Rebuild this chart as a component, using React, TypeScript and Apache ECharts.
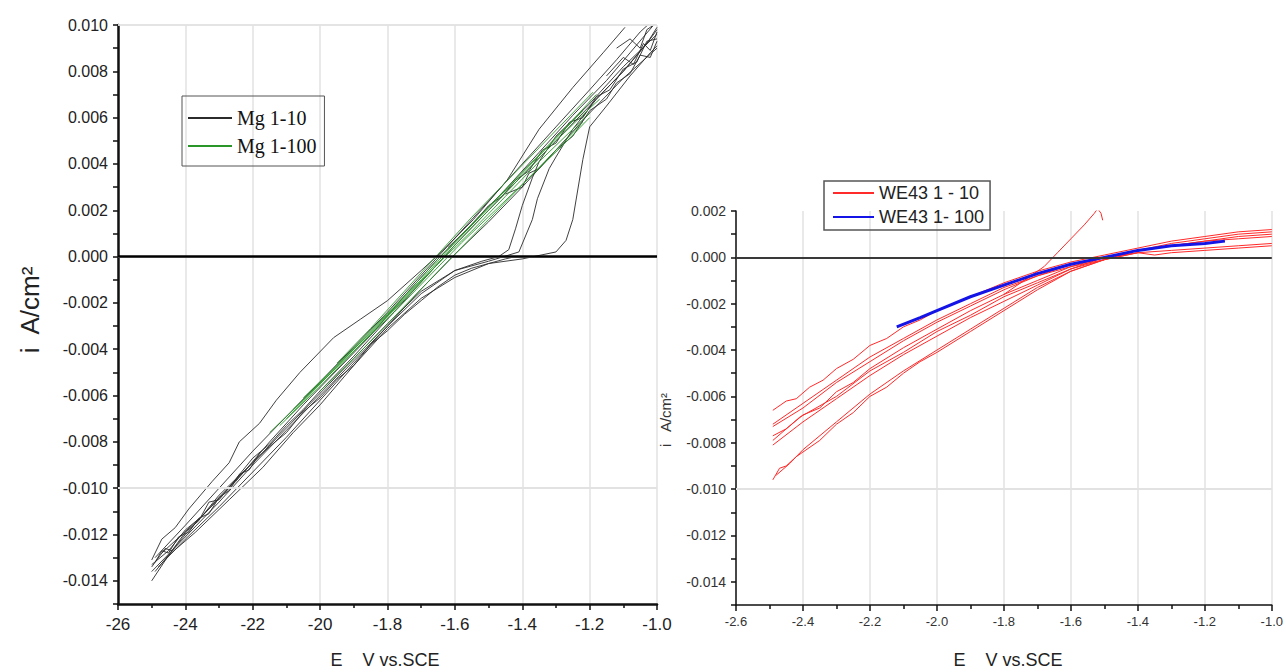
import React, { useEffect, useRef } from 'react';
import * as echarts from 'echarts';

// ---------- data ----------
const leftXTickLabels = ['-26', '-24', '-22', '-20', '-1.8', '-1.6', '-1.4', '-1.2', '-1.0'];
const rightXTickLabels = ['-2.6', '-2.4', '-2.2', '-2.0', '-1.8', '-1.6', '-1.4', '-1.2', '-1.0'];
const leftGridY = [-0.014, -0.012, -0.01, -0.008, -0.006, -0.004, -0.002, 0.002, 0.004, 0.006, 0.008];
const rightGridY = [-0.014, -0.012, -0.01, -0.008, -0.006, -0.004, -0.002];

// Mg 1-10 scans (E, i)
const mg10: number[][][] = [
  [[-2.5, -0.0131], [-2.47, -0.0122], [-2.43, -0.0117], [-2.39, -0.0109], [-2.32, -0.0097], [-2.27, -0.0089], [-2.24, -0.008], [-2.18, -0.0072], [-2.13, -0.0062], [-2.06, -0.005], [-1.96, -0.0035], [-1.88, -0.0027], [-1.8, -0.0019], [-1.7, -0.0006], [-1.64, 0.0002], [-1.545, 0.0016], [-1.445, 0.0033], [-1.35, 0.0055], [-1.25, 0.0073], [-1.16, 0.0088], [-1.095, 0.0099]],
  [[-2.5, -0.014], [-2.45, -0.0129], [-2.37, -0.0119], [-2.27, -0.0105], [-2.17, -0.0091], [-2.08, -0.0076], [-2.0, -0.0064], [-1.9, -0.0047], [-1.8, -0.0031], [-1.7, -0.0018], [-1.6, -0.0009], [-1.5, -0.0003], [-1.4, -0.0001], [-1.3, 0.0002], [-1.27, 0.0007], [-1.25, 0.0016], [-1.22, 0.0042], [-1.2, 0.0056], [-1.15, 0.0065], [-1.08, 0.0078], [-1.02, 0.0088], [-1.0, 0.0091]],
  [[-2.48, -0.0134], [-2.4, -0.0122], [-2.3, -0.0108], [-2.2, -0.0093], [-2.1, -0.0078], [-2.0, -0.0062], [-1.9, -0.0046], [-1.8, -0.003], [-1.7, -0.0016], [-1.6, -0.0006], [-1.52, -0.0002], [-1.47, 0.0], [-1.44, 0.0003], [-1.42, 0.0012], [-1.4, 0.0022], [-1.37, 0.0034], [-1.35, 0.0041], [-1.3, 0.0052], [-1.2, 0.0066], [-1.1, 0.0082], [-1.0, 0.0096]],
  [[-2.49, -0.0136], [-2.4, -0.012], [-2.3, -0.0104], [-2.2, -0.0089], [-2.1, -0.0074], [-2.0, -0.0059], [-1.9, -0.0044], [-1.8, -0.0029], [-1.7, -0.0015], [-1.6, -0.0006], [-1.5, -0.0002], [-1.41, 0.0002], [-1.37, 0.0016], [-1.355, 0.0025], [-1.32, 0.0038], [-1.3, 0.0043], [-1.25, 0.0055], [-1.18, 0.0068], [-1.1, 0.008], [-1.02, 0.0094], [-1.0, 0.0098]],
  [[-2.5, -0.0133], [-2.45, -0.0127], [-2.4, -0.0118], [-2.35, -0.0112], [-2.3, -0.0103], [-2.25, -0.0096], [-2.2, -0.0087], [-2.15, -0.0081], [-2.1, -0.0073], [-2.05, -0.0066], [-2.0, -0.0058], [-1.9, -0.0043], [-1.8, -0.0027], [-1.7, -0.0011], [-1.6, 0.0005], [-1.5, 0.002], [-1.4, 0.0035], [-1.3, 0.005], [-1.2, 0.0065], [-1.1, 0.008], [-1.03, 0.0092], [-1.0, 0.0099]],
  [[-2.49, -0.013], [-2.4, -0.0116], [-2.3, -0.01], [-2.2, -0.0084], [-2.1, -0.0069], [-2.0, -0.0054], [-1.9, -0.0039], [-1.8, -0.0024], [-1.7, -0.0008], [-1.6, 0.0008], [-1.5, 0.0024], [-1.4, 0.004], [-1.3, 0.0056], [-1.2, 0.0072], [-1.12, 0.0085], [-1.05, 0.0097], [-1.02, 0.0101]],
  [[-2.5, -0.0136], [-2.42, -0.0124], [-2.3, -0.0106], [-2.2, -0.009], [-2.1, -0.0075], [-2.0, -0.006], [-1.9, -0.0045], [-1.8, -0.003], [-1.7, -0.0014], [-1.6, 0.0001], [-1.5, 0.0015], [-1.4, 0.003], [-1.3, 0.0046], [-1.2, 0.0062], [-1.1, 0.0077], [-1.0, 0.009]],
  [[-2.47, -0.0128], [-2.35, -0.0112], [-2.25, -0.0097], [-2.15, -0.008], [-2.05, -0.0064], [-1.95, -0.0049], [-1.85, -0.0034], [-1.75, -0.0017], [-1.65, -0.0001], [-1.55, 0.0014], [-1.45, 0.0029], [-1.35, 0.0045], [-1.25, 0.0061], [-1.15, 0.0076], [-1.08, 0.0088], [-1.01, 0.01]],
  [[-1.15, 0.0078], [-1.1, 0.0086], [-1.07, 0.0083], [-1.04, 0.0092], [-1.02, 0.0089], [-1.0, 0.0097]],
  [[-1.12, 0.009], [-1.08, 0.0094], [-1.05, 0.009], [-1.03, 0.0098], [-1.0, 0.0101]],
  [[-2.5, -0.0134], [-2.46, -0.0126], [-2.44, -0.0127], [-2.4, -0.0119], [-2.36, -0.0114], [-2.33, -0.0106], [-2.3, -0.0105], [-2.25, -0.0096], [-2.2, -0.0089], [-2.15, -0.0082], [-2.1, -0.0076], [-2.05, -0.0067], [-2.0, -0.0061], [-1.95, -0.0053], [-1.9, -0.0047], [-1.85, -0.0038], [-1.8, -0.0032], [-1.75, -0.0025], [-1.7, -0.0019], [-1.65, -0.0013], [-1.6, -0.0008], [-1.55, -0.0005], [-1.5, -0.0003], [-1.45, -0.0001], [-1.42, 0.0]],
  [[-1.62, 0.0004], [-1.56, 0.0012], [-1.5, 0.0022], [-1.46, 0.0026], [-1.42, 0.0033], [-1.38, 0.0037], [-1.34, 0.0046], [-1.3, 0.0049], [-1.26, 0.0058], [-1.22, 0.006], [-1.18, 0.0069], [-1.14, 0.0072], [-1.1, 0.0081], [-1.06, 0.0084], [-1.03, 0.0093], [-1.0, 0.0094]],
  [[-1.45, 0.0027], [-1.4, 0.003], [-1.38, 0.0036], [-1.35, 0.0038], [-1.3, 0.0046], [-1.25, 0.0052], [-1.2, 0.0063], [-1.15, 0.0068], [-1.12, 0.0075], [-1.08, 0.0079], [-1.05, 0.0087], [-1.02, 0.0086], [-1.0, 0.0093]],
  [[-2.49, -0.0132], [-2.47, -0.0127], [-2.45, -0.0128], [-2.42, -0.0121], [-2.39, -0.0119], [-2.36, -0.0113], [-2.33, -0.0111], [-2.3, -0.0104], [-2.27, -0.0101], [-2.24, -0.0094], [-2.21, -0.0092], [-2.18, -0.0085]],
];

// Mg 1-100 scans
const mg100: number[][][] = [
  [[-2.15, -0.0076], [-2.05, -0.0062], [-1.95, -0.0047], [-1.85, -0.0032], [-1.75, -0.0017], [-1.65, -0.0001], [-1.55, 0.0014], [-1.45, 0.0029], [-1.35, 0.0044], [-1.25, 0.0059], [-1.18, 0.007]],
  [[-2.12, -0.0073], [-2.0, -0.0056], [-1.9, -0.0041], [-1.8, -0.0026], [-1.7, -0.0011], [-1.6, 0.0005], [-1.5, 0.002], [-1.4, 0.0035], [-1.3, 0.005], [-1.2, 0.0064], [-1.17, 0.0068]],
  [[-2.08, -0.0066], [-1.98, -0.0052], [-1.88, -0.0038], [-1.78, -0.0024], [-1.68, -0.0009], [-1.58, 0.0006], [-1.48, 0.002], [-1.38, 0.0034], [-1.28, 0.0048], [-1.2, 0.006]],
  [[-2.0, -0.0058], [-1.9, -0.0044], [-1.8, -0.0029], [-1.7, -0.0014], [-1.6, 0.0001], [-1.5, 0.0016], [-1.4, 0.0031], [-1.3, 0.0046], [-1.22, 0.0058]],
  [[-1.95, -0.0046], [-1.85, -0.0031], [-1.75, -0.0015], [-1.65, 0.0001], [-1.55, 0.0017], [-1.45, 0.0032], [-1.35, 0.0047], [-1.25, 0.0062], [-1.19, 0.0071]],
  [[-2.1, -0.007], [-2.0, -0.0055], [-1.9, -0.004], [-1.8, -0.0025], [-1.7, -0.001], [-1.6, 0.0006], [-1.5, 0.0021], [-1.4, 0.0036], [-1.3, 0.0051], [-1.22, 0.0063]],
  [[-2.05, -0.0061], [-1.95, -0.0047], [-1.85, -0.0033], [-1.75, -0.0018], [-1.65, -0.0003], [-1.55, 0.0011], [-1.45, 0.0026], [-1.35, 0.0041], [-1.25, 0.0055], [-1.2, 0.0062]],
];

// WE43 1 - 10 scans
const we10: number[][][] = [
  [[-2.49, -0.0066], [-2.45, -0.0062], [-2.42, -0.0061], [-2.38, -0.0056], [-2.34, -0.0053], [-2.3, -0.0048], [-2.25, -0.0044], [-2.2, -0.0038], [-2.15, -0.0035], [-2.1, -0.003], [-2.05, -0.0027], [-2.0, -0.0023], [-1.9, -0.0017], [-1.8, -0.0011], [-1.7, -0.0006], [-1.6, -0.0002], [-1.5, 0.0001], [-1.4, 0.0004], [-1.3, 0.0007], [-1.2, 0.0009], [-1.1, 0.0011], [-1.0, 0.0012]],
  [[-2.49, -0.0072], [-2.4, -0.0063], [-2.3, -0.0053], [-2.2, -0.0043], [-2.1, -0.0035], [-2.0, -0.0027], [-1.9, -0.002], [-1.8, -0.0013], [-1.7, -0.0008], [-1.6, -0.0003], [-1.5, 0.0], [-1.4, 0.0003], [-1.3, 0.0006], [-1.2, 0.0008], [-1.1, 0.001], [-1.0, 0.0011]],
  [[-2.49, -0.0073], [-2.4, -0.0065], [-2.3, -0.0054], [-2.2, -0.0045], [-2.1, -0.0036], [-2.0, -0.0028], [-1.9, -0.0021], [-1.8, -0.0014], [-1.7, -0.0008], [-1.6, -0.0004], [-1.5, -0.0001], [-1.4, 0.0003], [-1.3, 0.0005], [-1.2, 0.0007], [-1.1, 0.0009], [-1.0, 0.001]],
  [[-2.49, -0.0077], [-2.45, -0.0074], [-2.4, -0.0068], [-2.35, -0.0065], [-2.3, -0.0058], [-2.25, -0.0054], [-2.2, -0.0048], [-2.1, -0.0039], [-2.0, -0.0031], [-1.9, -0.0023], [-1.8, -0.0016], [-1.7, -0.001], [-1.6, -0.0004], [-1.5, 0.0], [-1.4, 0.0003], [-1.3, 0.0005], [-1.2, 0.0007], [-1.1, 0.0008], [-1.0, 0.0009]],
  [[-2.49, -0.0079], [-2.41, -0.0069], [-2.3, -0.006], [-2.2, -0.0049], [-2.1, -0.0041], [-2.0, -0.0032], [-1.9, -0.0025], [-1.8, -0.0017], [-1.7, -0.0011], [-1.6, -0.0005], [-1.5, 0.0], [-1.4, 0.0002]],
  [[-2.49, -0.0081], [-2.4, -0.0071], [-2.3, -0.0061], [-2.2, -0.0051], [-2.1, -0.0042], [-2.0, -0.0034], [-1.9, -0.0026], [-1.8, -0.0019], [-1.7, -0.0012], [-1.6, -0.0005], [-1.5, -0.0001], [-1.4, 0.0002], [-1.3, 0.0003], [-1.2, 0.0004], [-1.1, 0.0005], [-1.0, 0.0006]],
  [[-2.49, -0.0096], [-2.47, -0.0091], [-2.45, -0.009], [-2.42, -0.0086], [-2.4, -0.0084], [-2.35, -0.0079], [-2.3, -0.0072], [-2.25, -0.0067], [-2.2, -0.006], [-2.15, -0.0056], [-2.1, -0.005], [-2.05, -0.0045], [-2.0, -0.0041], [-1.9, -0.0032], [-1.8, -0.0023], [-1.7, -0.0014], [-1.6, -0.0006], [-1.5, -0.0001], [-1.4, 0.0002], [-1.35, 0.0001], [-1.3, 0.0002], [-1.2, 0.0003], [-1.1, 0.0004], [-1.0, 0.0005]],
  [[-2.48, -0.0094], [-2.44, -0.0089], [-2.4, -0.0083], [-2.3, -0.0071], [-2.2, -0.0059], [-2.1, -0.0049], [-2.0, -0.004], [-1.9, -0.0031], [-1.8, -0.0022], [-1.7, -0.0013], [-1.6, -0.0006], [-1.5, -0.0001]],
  [[-1.8, -0.0016], [-1.72, -0.0008], [-1.68, -0.0004], [-1.64, 0.0002], [-1.6, 0.0008], [-1.56, 0.0014], [-1.53, 0.0019], [-1.52, 0.0021], [-1.51, 0.0019], [-1.505, 0.0016]],
];

// WE43 1- 100 scan
const we100: number[][] = [[-2.12, -0.003], [-2.05, -0.0026], [-2.0, -0.0023], [-1.9, -0.0017], [-1.8, -0.0012], [-1.7, -0.0007], [-1.6, -0.0003], [-1.5, 0.0], [-1.4, 0.0003], [-1.3, 0.0005], [-1.2, 0.0006], [-1.14, 0.0007]];

// ---------- helpers ----------
const yFmt = (v: number) => {
  const k = Math.round(v * 1000);
  if (k % 2 !== 0) return '';
  return (k / 1000).toFixed(3);
};

function yAxis(gridIndex: number, min: number, max: number, fontSize: number, lw: number, color: string) {
  return {
    type: 'value', gridIndex, min, max, interval: 0.001,
    axisLine: { show: true, onZero: false, lineStyle: { color: '#111', width: lw } },
    axisTick: { show: true, length: 5, lineStyle: { color: '#111', width: 1.5 } },
    axisLabel: { formatter: yFmt, fontSize, color, fontFamily: 'Liberation Sans', margin: 10 },
    splitLine: { show: false },
  };
}

function xAxis(gridIndex: number, labels: string[], fontSize: number, lw: number, color: string, margin: number) {
  return {
    type: 'value', gridIndex, min: -2.6, max: -1.0, interval: 0.2,
    axisLine: { show: true, onZero: false, lineStyle: { color: '#111', width: lw } },
    axisTick: { show: true, length: 6, lineStyle: { color: '#111', width: 1.5 } },
    minorTick: { show: true, splitNumber: 2, length: 4, lineStyle: { color: '#111', width: 1.5 } },
    axisLabel: {
      formatter: (v: number) => labels[Math.round((v + 2.6) / 0.2)] ?? '',
      fontSize, color, fontFamily: 'Liberation Sans', margin,
    },
    splitLine: { show: true, lineStyle: { color: '#e2e2e2', width: 1.5 } },
  };
}

function gridSeries(idx: number, ys: number[], zeroWidth: number) {
  return {
    type: 'line', name: '_grid' + idx, xAxisIndex: idx, yAxisIndex: idx, data: [], silent: true, z: 1,
    markLine: {
      silent: true, symbol: ['none', 'none'], label: { show: false }, animation: false,
      data: [
        ...ys.map((v) => ({ yAxis: v, lineStyle: { color: '#e2e2e2', width: 1.5, type: 'solid' } })),
        { yAxis: 0, lineStyle: { color: '#000', width: zeroWidth, type: 'solid' } },
      ],
    },
  };
}

function lineSeries(name: string, idx: number, data: number[][], color: string, width: number) {
  return {
    type: 'line', name, xAxisIndex: idx, yAxisIndex: idx, data, color,
    showSymbol: false, symbol: 'none', z: 3,
    lineStyle: { color, width },
  };
}

export default function App() {
  const ref = useRef<HTMLDivElement>(null);
  useEffect(() => {
    const chart = echarts.init(ref.current!, null, { renderer: 'svg' });
    const series: any[] = [
      gridSeries(0, leftGridY, 2.5),
      gridSeries(1, rightGridY, 1.5),
      ...mg10.map((d) => lineSeries('Mg 1-10', 0, d, '#2b2b2b', 0.9)),
      ...mg100.map((d) => lineSeries('Mg 1-100', 0, d, '#2a962a', 0.9)),
      ...we10.map((d) => lineSeries('WE43 1 - 10', 1, d, '#ff2a2a', 1)),
      lineSeries('WE43 1- 100', 1, we100, '#1414e6', 3),
    ];
    chart.setOption({
      animation: false,
      backgroundColor: '#fff',
      grid: [
        { left: 118, top: 25, width: 539, height: 579 },
        { left: 736, top: 211, width: 537, height: 394 },
      ],
      xAxis: [
        xAxis(0, leftXTickLabels, 17, 2.5, '#222', 12),
        xAxis(1, rightXTickLabels, 13, 1.5, '#333', 10),
      ],
      yAxis: [
        yAxis(0, -0.015, 0.01, 16, 2.5, '#222'),
        yAxis(1, -0.015, 0.002, 14, 1.5, '#333'),
      ],
      legend: [
        {
          data: ['Mg 1-10', 'Mg 1-100'], orient: 'vertical', left: 182, top: 96,
          itemWidth: 44, itemHeight: 2, itemGap: 8, padding: [12, 8, 10, 5],
          borderColor: '#555', borderWidth: 1, selectedMode: false,
          itemStyle: { opacity: 0 },
          textStyle: { fontFamily: 'Liberation Serif', fontSize: 20, color: '#111' },
        },
        {
          data: ['WE43 1 - 10', 'WE43 1- 100'], orient: 'vertical', left: 824, top: 181,
          itemWidth: 41, itemHeight: 2, itemGap: 6, padding: [3, 6, 4, 8],
          borderColor: '#555', borderWidth: 1.5, selectedMode: false,
          itemStyle: { opacity: 0 },
          textStyle: { fontFamily: 'Liberation Sans', fontSize: 18, color: '#222' },
        },
      ],
      graphic: [
        { type: 'text', x: 385, y: 660, style: { text: 'E    V vs.SCE', fontSize: 18, fontFamily: 'Liberation Sans', fill: '#222', align: 'center', verticalAlign: 'middle' } },
        { type: 'text', x: 1008, y: 660, style: { text: 'E    V vs.SCE', fontSize: 18, fontFamily: 'Liberation Sans', fill: '#222', align: 'center', verticalAlign: 'middle' } },
        { type: 'text', x: 30, y: 310, rotation: Math.PI / 2, style: { text: 'i  A/cm²', fontSize: 26, fontFamily: 'Liberation Sans', fill: '#222', align: 'center', verticalAlign: 'middle' } },
        { type: 'text', x: 665, y: 420, rotation: Math.PI / 2, style: { text: 'i   A/cm²', fontSize: 15, fontFamily: 'Liberation Sans', fill: '#333', align: 'center', verticalAlign: 'middle' } },
      ],
      series,
    });
    return () => chart.dispose();
  }, []);
  return <div ref={ref} style={{ position: 'absolute', left: 0, top: 0, width: 1286, height: 672, background: '#fff' }} />;
}
